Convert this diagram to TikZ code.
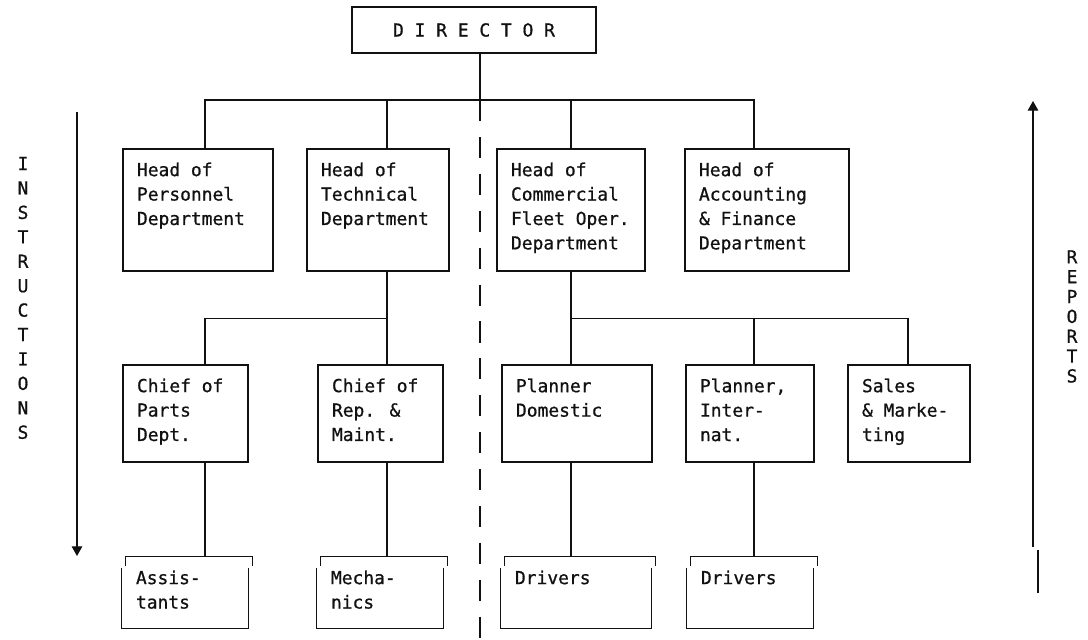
\documentclass[tikz,border=0pt]{standalone}
\usepackage{fontspec}
\usepackage{tikz}
\usetikzlibrary{arrows.meta}
\newfontfamily\chartface[FakeBold=0.8]{DejaVu Sans Mono}
\definecolor{scanink}{HTML}{111111}
\newcommand{\chartfont}{\chartface\fontsize{10.2}{13.9}\selectfont}
\newcommand{\unittext}[3]{\parbox[t][#2][t]{#1}{\raggedright #3}}

\begin{document}
\begin{tikzpicture}[
    x=1cm,y=1cm,
    title/.style={draw=scanink, line width=0.7pt, inner sep=0pt, minimum width=4.88cm, minimum height=0.92cm, font=\chartfont, text=scanink},
    unit/.style={draw=scanink, line width=0.7pt, inner xsep=0.28cm, inner ysep=0.27cm, font=\chartfont, text=scanink},
    crew/.style={inner xsep=0.28cm, inner ysep=0.27cm, font=\chartfont, text=scanink},
    link/.style={draw=scanink, line width=0.7pt},
    divider/.style={draw=scanink, line width=0.8pt, dash pattern=on 12pt off 9pt},
    flow/.style={draw=scanink, line width=0.7pt, -{Triangle[width=6pt,length=5.5pt]}},
    side/.style={align=center, font=\chartfont, text=scanink}
  ]
    \useasboundingbox (0,0) rectangle (21.76,12.78);

    % columns and junctions
    \coordinate (colA) at (4.10,0);
    \coordinate (colB) at (7.74,0);
    \coordinate (colC) at (11.42,0);
    \coordinate (colD) at (15.08,0);
    \coordinate (colE) at (18.16,0);
    \coordinate (hub) at (9.60,10.78);
    \coordinate (techhub) at (7.74,6.41);
    \coordinate (commhub) at (11.42,6.41);

    \node[title] (dir) at (9.48,12.18) {D I R E C T O R};

    \node[unit] (pers) at (3.96,8.58) {\unittext{2.44cm}{1.90cm}{Head of\\Personnel\\Department}};
    \node[unit] (tech) at (7.56,8.58) {\unittext{2.28cm}{1.90cm}{Head of\\Technical\\Department}};
    \node[unit] (comm) at (11.42,8.58) {\unittext{2.40cm}{1.90cm}{Head of\\Commercial\\Fleet Oper.\\Department}};
    \node[unit] (acc) at (15.34,8.58) {\unittext{2.72cm}{1.90cm}{Head of\\Accounting\\\& Finance\\Department}};

    \node[unit] (parts) at (3.71,4.51) {\unittext{1.94cm}{1.40cm}{Chief of\\Parts\\Dept.}};
    \node[unit] (repair) at (7.61,4.51) {\unittext{1.94cm}{1.40cm}{Chief of\\Rep. \&\\Maint.}};
    \node[unit] (pdom) at (11.54,4.51) {\unittext{2.44cm}{1.40cm}{Planner\\Domestic}};
    \node[unit] (pint) at (15.00,4.51) {\unittext{2.00cm}{1.40cm}{Planner,\\Inter-\\nat.}};
    \node[unit] (sales) at (18.18,4.51) {\unittext{1.88cm}{1.40cm}{Sales\\\& Marke-\\ting}};

    \node[crew] (asst) at (3.70,0.93) {\unittext{1.96cm}{0.88cm}{Assis-\\tants}};
    \node[crew] (mech) at (7.60,0.93) {\unittext{1.96cm}{0.88cm}{Mecha-\\nics}};
    \node[crew] (drv1) at (11.52,0.93) {\unittext{2.44cm}{0.88cm}{Drivers}};
    \node[crew] (drv2) at (15.00,0.93) {\unittext{1.96cm}{0.88cm}{Drivers}};

    % chain of command
    \draw[link] (dir.south -| hub) -- (hub);
    \draw[link] (pers.north -| colA) |- (hub) -| (acc.north -| colD);
    \draw[link] (hub -| colB) -- (tech.north -| colB);
    \draw[link] (hub -| colC) -- (comm.north -| colC);

    \draw[link] (tech.south -| colB) -- (repair.north -| colB);
    \draw[link] (techhub) -| (parts.north -| colA);
    \draw[link] (comm.south -| colC) -- (pdom.north -| colC);
    \draw[link] (commhub) -| (sales.north -| colE);
    \draw[link] (commhub -| colD) -- (pint.north -| colD);

    \draw[link] (parts.south -| colA) -- (asst.north -| colA);
    \draw[link] (repair.south -| colB) -- (mech.north -| colB);
    \draw[link] (pdom.south -| colC) -- (drv1.north -| colC);
    \draw[link] (pint.south -| colD) -- (drv2.north -| colD);

    % open boxes with bracket tops
    \foreach \c in {asst,mech,drv1,drv2}{
      \draw[link] ([yshift=-0.22cm]\c.north west) -- (\c.south west) -- (\c.south east) -- ([yshift=-0.22cm]\c.north east);
      \draw[link] ([shift={(0.08,-0.18)}]\c.north west) -- ([xshift=0.08cm]\c.north west) -- ([xshift=0.08cm]\c.north east) -- ([shift={(0.08,-0.18)}]\c.north east);
    }

    % dividing line
    \coordinate (divfoot) at (9.60,0);
    \draw[divider] (hub) -- (divfoot);

    % side arrows
    \coordinate (instrtop) at (1.54,10.54);
    \coordinate (instrfoot) at (1.54,1.66);
    \draw[flow] (instrtop) -- (instrfoot);
    \node[side] (instr) at (0.46,6.82) {I\\N\\S\\T\\R\\U\\C\\T\\I\\O\\N\\S};

    \coordinate (repfoot) at (20.66,1.84);
    \coordinate (reptop) at (20.66,10.76);
    \draw[flow] (repfoot) -- (reptop);
    \coordinate (stubtop) at (20.76,1.78);
    \coordinate (stubfoot) at (20.76,0.92);
    \draw[link] (stubtop) -- (stubfoot);
    \node[side, font=\chartface\fontsize{10.2}{11.3}\selectfont] (reports) at (21.44,6.45) {R\\E\\P\\O\\R\\T\\S};
  \end{tikzpicture}
\end{document}
